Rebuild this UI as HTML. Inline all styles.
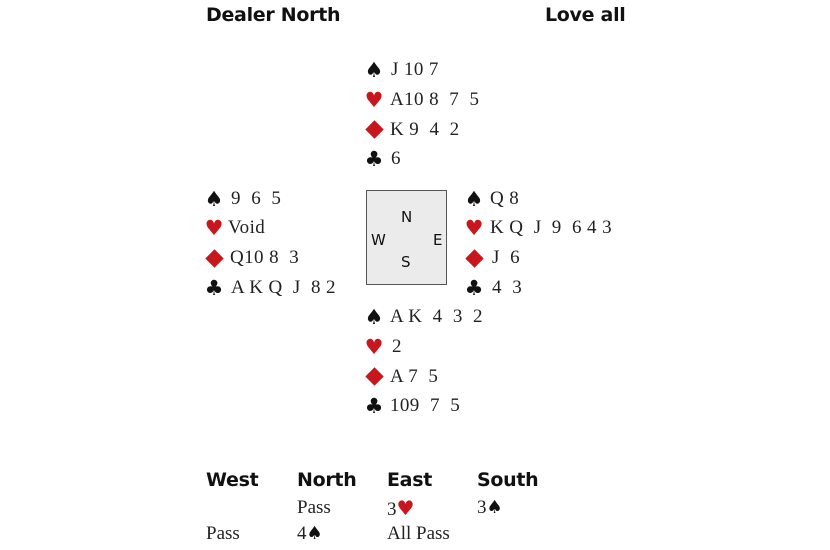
<!DOCTYPE html>
<html><head><meta charset="utf-8"><style>
body{margin:0;width:830px;height:550px;background:#fff;position:relative;overflow:hidden}
.h{position:absolute;font-family:"DejaVu Sans","Liberation Sans",sans-serif;font-weight:bold;font-size:19px;color:#111;line-height:22px;letter-spacing:-0.3px}
.g{position:absolute;font-family:"DejaVu Sans",sans-serif;font-size:21px;line-height:22px;width:22px;text-align:center}
.d{position:absolute;width:13px;height:13px;background:#c8161d;transform:rotate(45deg)}
.t{position:absolute;font-family:"Liberation Serif",serif;font-size:19px;line-height:22px;color:#222;white-space:pre;letter-spacing:0.4px}
.bid{letter-spacing:0}
.r{color:#c8161d}.b{color:#111}
.box{position:absolute;left:366px;top:190px;width:79px;height:93px;background:#ebebeb;border:1.5px solid #555}
.c{position:absolute;font-family:"DejaVu Sans",sans-serif;font-size:15px;color:#111;line-height:16px}
</style></head><body>
<div class="h" style="left:206px;top:4px">Dealer North</div>
<div class="h" style="left:545px;top:4px">Love all</div>

<div class="g b" style="left:363px;top:59px">♠</div><div class="t" style="left:391px;top:59px">J 10 7</div>
<div class="g r" style="left:363px;top:89px">♥</div><div class="t" style="left:390px;top:89px">A10 8  7  5</div>
<div class="d" style="left:368px;top:123px"></div><div class="t" style="left:390px;top:119px">K 9  4  2</div>
<div class="g b" style="left:363px;top:148px">♣</div><div class="t" style="left:391px;top:148px">6</div>

<div class="g b" style="left:203px;top:188px">♠</div><div class="t" style="left:231px;top:188px">9  6  5</div>
<div class="g r" style="left:203px;top:217px">♥</div><div class="t" style="left:228px;top:217px">Void</div>
<div class="d" style="left:208px;top:252px"></div><div class="t" style="left:230px;top:247px">Q10 8  3</div>
<div class="g b" style="left:203px;top:277px">♣</div><div class="t" style="left:231px;top:277px">A K Q  J  8 2</div>

<div class="box"></div>
<div class="c" style="left:401px;top:209px">N</div>
<div class="c" style="left:371px;top:232px">W</div>
<div class="c" style="left:433px;top:232px">E</div>
<div class="c" style="left:401px;top:254px">S</div>

<div class="g b" style="left:463px;top:188px">♠</div><div class="t" style="left:490px;top:188px">Q 8</div>
<div class="g r" style="left:463px;top:217px">♥</div><div class="t" style="left:490px;top:217px">K Q  J  9  6 4 3</div>
<div class="d" style="left:468px;top:252px"></div><div class="t" style="left:492px;top:247px">J  6</div>
<div class="g b" style="left:463px;top:277px">♣</div><div class="t" style="left:492px;top:277px">4  3</div>

<div class="g b" style="left:363px;top:306px">♠</div><div class="t" style="left:390px;top:306px">A K  4  3  2</div>
<div class="g r" style="left:363px;top:336px">♥</div><div class="t" style="left:392px;top:336px">2</div>
<div class="d" style="left:368px;top:370px"></div><div class="t" style="left:390px;top:366px">A 7  5</div>
<div class="g b" style="left:363px;top:395px">♣</div><div class="t" style="left:390px;top:395px">109  7  5</div>

<div class="h" style="left:206px;top:469px">West</div>
<div class="h" style="left:297px;top:469px">North</div>
<div class="h" style="left:387px;top:469px">East</div>
<div class="h" style="left:477px;top:469px">South</div>
<div class="t bid" style="left:297px;top:497px">Pass</div>
<div class="t bid" style="left:387px;top:497px">3<span class="r" style="font-family:'DejaVu Sans',sans-serif;font-size:20px">♥</span></div>
<div class="t bid" style="left:477px;top:497px">3<span class="b" style="font-family:'DejaVu Sans',sans-serif;font-size:18px">♠</span></div>
<div class="t bid" style="left:206px;top:523px">Pass</div>
<div class="t bid" style="left:297px;top:523px">4<span class="b" style="font-family:'DejaVu Sans',sans-serif;font-size:18px">♠</span></div>
<div class="t bid" style="left:387px;top:523px">All Pass</div>
</body></html>
